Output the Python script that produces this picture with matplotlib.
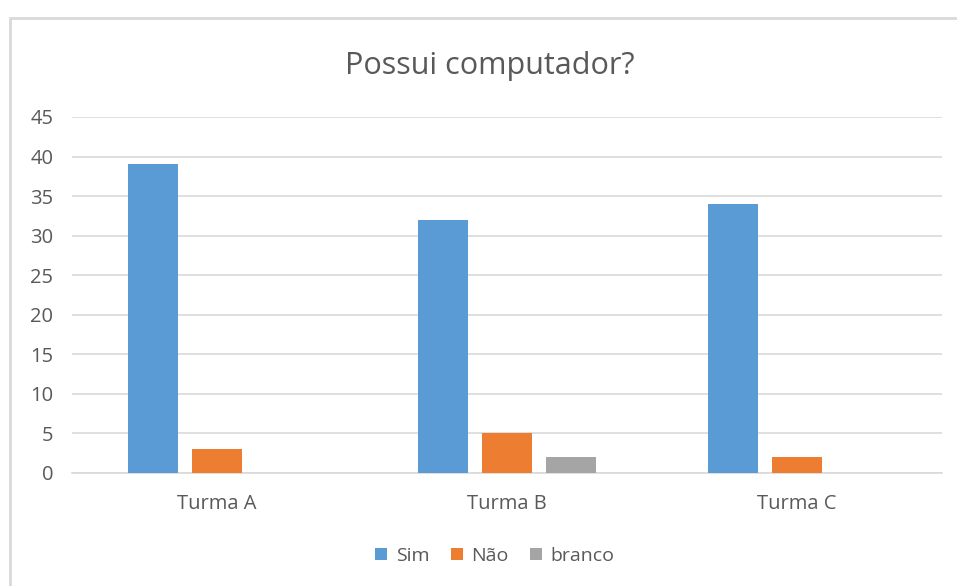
import matplotlib.pyplot as plt
import numpy as np
from matplotlib.patches import Rectangle

turmas = ['Turma A', 'Turma B', 'Turma C']
sim = [39, 32, 34]
nao = [3, 5, 2]
branco = [0, 2, 0]

series_names = ['Sim', 'Não', 'branco']
colors = ['#5B9BD5', '#ED7D31', '#A5A5A5']

plt.rcParams['font.family'] = ['Open Sans', 'DejaVu Sans']

W, H = 957, 586
fig = plt.figure(figsize=(W / 100, H / 100), dpi=100)
ax = fig.add_axes([72 / W, 1 - 473 / H, (942 - 72) / W, (473 - 117) / H])

# outer chart border (only top and left visible in the crop)
fig.patches.append(Rectangle((10 / W, -0.1), 1.2, 1 - 18 / H + 0.1,
                             transform=fig.transFigure, fill=False,
                             edgecolor='#d9d9d9', linewidth=2))

x = np.arange(len(turmas))
width = 0.169
step = 0.2207
for i, (vals, name, c) in enumerate(zip([sim, nao, branco], series_names, colors)):
    ax.bar(x + (i - 1) * step, vals, width, color=c, label=name, zorder=3)

ax.set_xlim(-0.5, 2.5)
ax.set_ylim(0, 45)
ax.set_yticks(range(0, 46, 5))
ax.set_xticks(x)
ax.set_xticklabels(turmas)
ax.grid(axis='y', color='#d9d9d9', linewidth=1.2, zorder=0)
for s in ['top', 'right', 'left']:
    ax.spines[s].set_visible(False)
ax.spines['bottom'].set_color('#d9d9d9')
ax.spines['bottom'].set_linewidth(1.2)
ax.tick_params(axis='both', length=0, colors='#595959', labelsize=14.5)
ax.tick_params(axis='y', pad=13.5)
ax.tick_params(axis='x', pad=15)

fig.text(490 / W, 1 - 74 / H, 'Possui computador?', ha='center', va='baseline',
         fontsize=22, color='#595959')

fig.legend(loc='center', bbox_to_anchor=(495 / W, 1 - 556 / H), ncol=3,
           frameon=False, fontsize=14, labelcolor='#595959',
           handlelength=0.6, handleheight=0.6, handletextpad=0.45,
           columnspacing=1.1)

fig.savefig('out.png', dpi=100)
